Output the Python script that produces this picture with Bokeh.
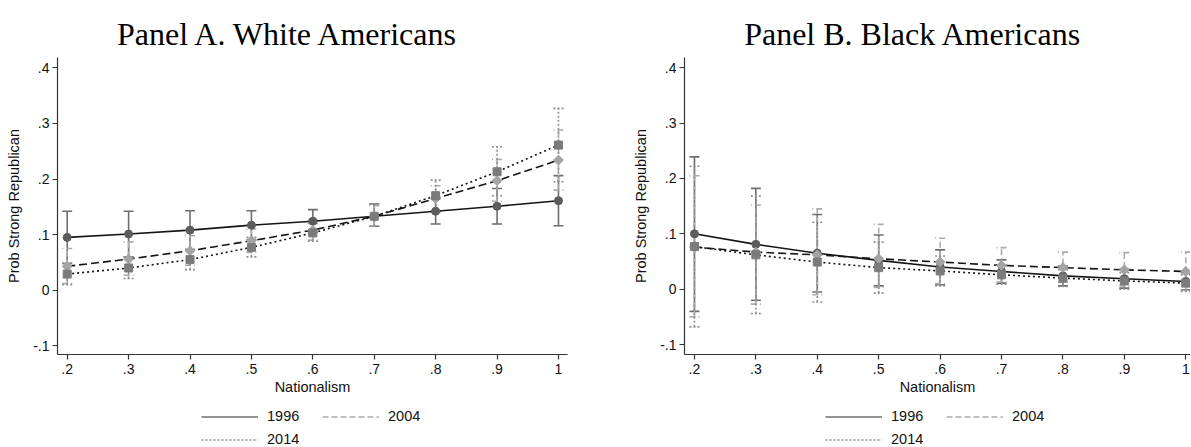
import numpy as np
from bokeh.plotting import figure
from bokeh.models import (ColumnDataSource, Whisker, TeeHead, FixedTicker, Legend,
                          LegendItem, Range1d, Label)
from bokeh.layouts import row, column
from bokeh.embed import file_html
from bokeh.resources import INLINE

# ---------------- data ----------------
nationalism = [0.2, 0.3, 0.4, 0.5, 0.6, 0.7, 0.8, 0.9, 1.0]
x_tick_labels = [".2", ".3", ".4", ".5", ".6", ".7", ".8", ".9", "1"]
y_ticks = [-0.1, 0.0, 0.1, 0.2, 0.3, 0.4]
y_tick_labels = ["-.1", "0", ".1", ".2", ".3", ".4"]
years = ["1996", "2004", "2014"]

# Panel A. White Americans
a_1996 = [0.095, 0.101, 0.108, 0.117, 0.124, 0.133, 0.142, 0.151, 0.161]
a_1996_lo = [0.048, 0.060, 0.073, 0.091, 0.104, 0.115, 0.119, 0.119, 0.116]
a_1996_hi = [0.142, 0.142, 0.143, 0.143, 0.145, 0.155, 0.165, 0.183, 0.206]
a_2004 = [0.043, 0.056, 0.071, 0.089, 0.108, 0.133, 0.165, 0.197, 0.234]
a_2004_lo = [0.012, 0.027, 0.045, 0.068, 0.090, 0.115, 0.140, 0.160, 0.180]
a_2004_hi = [0.075, 0.087, 0.098, 0.110, 0.126, 0.152, 0.188, 0.235, 0.288]
a_2014 = [0.029, 0.040, 0.055, 0.077, 0.103, 0.133, 0.170, 0.213, 0.261]
a_2014_lo = [0.010, 0.021, 0.037, 0.060, 0.088, 0.115, 0.143, 0.170, 0.195]
a_2014_hi = [0.049, 0.060, 0.073, 0.095, 0.120, 0.155, 0.198, 0.258, 0.327]

# Panel B. Black Americans
b_1996 = [0.100, 0.081, 0.065, 0.052, 0.040, 0.032, 0.024, 0.019, 0.014]
b_1996_lo = [-0.040, -0.020, -0.005, 0.006, 0.008, 0.011, 0.006, 0.002, -0.001]
b_1996_hi = [0.239, 0.182, 0.135, 0.098, 0.071, 0.053, 0.042, 0.036, 0.030]
b_2004 = [0.076, 0.067, 0.062, 0.055, 0.049, 0.043, 0.039, 0.035, 0.032]
b_2004_lo = [-0.050, -0.027, -0.010, 0.003, 0.010, 0.013, 0.012, 0.006, -0.002]
b_2004_hi = [0.205, 0.152, 0.145, 0.117, 0.092, 0.075, 0.067, 0.066, 0.067]
b_2014 = [0.077, 0.062, 0.049, 0.039, 0.033, 0.026, 0.020, 0.015, 0.011]
b_2014_lo = [-0.068, -0.044, -0.023, -0.007, 0.006, 0.009, 0.005, 0.000, -0.004]
b_2014_hi = [0.222, 0.168, 0.121, 0.085, 0.060, 0.044, 0.035, 0.030, 0.026]

panel_a = {"1996": (a_1996, a_1996_lo, a_1996_hi),
           "2004": (a_2004, a_2004_lo, a_2004_hi),
           "2014": (a_2014, a_2014_lo, a_2014_hi)}
panel_b = {"1996": (b_1996, b_1996_lo, b_1996_hi),
           "2004": (b_2004, b_2004_lo, b_2004_hi),
           "2014": (b_2014, b_2014_lo, b_2014_hi)}

# ---------------- styles ----------------
SANS = "Liberation Sans"
SERIF = "Liberation Serif"
styles = {
    "1996": dict(marker="circle", size=8, angle=0.0, color="#5c5c5c",
                 line_dash="solid", bar_color="#6e6e6e", bar_dash="solid"),
    "2004": dict(marker="square", size=7, angle=np.pi / 4, color="#a4a4a4",
                 line_dash="8 4", bar_color="#ababab", bar_dash="6 3"),
    "2014": dict(marker="square", size=8, angle=0.0, color="#7b7b7b",
                 line_dash="2 3", bar_color="#8f8f8f", bar_dash="2 2"),
}

TITLE_H = 57
PANEL_H = 343
LEGEND_H = 47


def blank_figure(width, height):
    f = figure(width=width, height=height, output_backend="svg", toolbar_location=None,
               x_range=Range1d(0, 1), y_range=Range1d(-0.2, 0.4),
               x_axis_type=None, y_axis_type=None,
               min_border=0, min_border_left=0, min_border_right=0,
               min_border_top=0, min_border_bottom=0)
    f.outline_line_color = None
    f.xgrid.grid_line_color = None
    f.ygrid.grid_line_color = None
    return f


def make_title(text, width, center_x):
    t = blank_figure(width, TITLE_H)
    t.add_layout(Label(x=center_x, y=TITLE_H - 33.5, x_units="screen", y_units="screen",
                       text=text, text_align="center", text_baseline="alphabetic",
                       text_font=SERIF, text_font_size="32px", text_color="#000000"))
    return t


def make_panel(data, width, border_left, border_right, frame_h,
               x_start, x_end, y_start, y_end):
    p = figure(width=width, height=PANEL_H, output_backend="svg", toolbar_location=None,
               x_range=Range1d(x_start, x_end), y_range=Range1d(y_start, y_end),
               min_border_left=border_left, min_border_right=border_right,
               min_border_top=0, min_border_bottom=PANEL_H - frame_h)
    p.outline_line_color = None
    p.xgrid.grid_line_color = None
    p.ygrid.grid_line_color = None
    p.background_fill_color = "white"
    p.border_fill_color = "white"

    # axes
    p.xaxis.ticker = FixedTicker(ticks=nationalism)
    p.xaxis.major_label_overrides = dict(zip(nationalism, x_tick_labels))
    p.yaxis.ticker = FixedTicker(ticks=y_ticks)
    p.yaxis.major_label_overrides = dict(zip(y_ticks, y_tick_labels))
    p.xaxis.axis_label = "Nationalism"
    p.yaxis.axis_label = "Prob Strong Republican"
    for ax in (p.xaxis, p.yaxis):
        ax.axis_line_color = "#333333"
        ax.axis_line_width = 1.2
        ax.major_tick_line_color = "#333333"
        ax.major_tick_line_width = 1.2
        ax.major_tick_out = 5
        ax.major_tick_in = 0
        ax.minor_tick_line_color = None
        ax.major_label_text_font = SANS
        ax.major_label_text_font_size = "14px"
        ax.major_label_text_color = "#111111"
        ax.axis_label_text_font = SANS
        ax.axis_label_text_font_size = "14.5px"
        ax.axis_label_text_font_style = "normal"
        ax.axis_label_text_color = "#111111"
    p.xaxis.major_label_standoff = 4
    p.xaxis.axis_label_standoff = 2
    p.yaxis.major_label_standoff = 3
    p.yaxis.axis_label_standoff = 8
    p.yaxis.major_label_orientation = "horizontal"

    for yr in years:
        mean, lo, hi = data[yr]
        st = styles[yr]
        src = ColumnDataSource(dict(x=nationalism, y=mean, lo=lo, hi=hi))
        w = Whisker(source=src, base="x", upper="hi", lower="lo",
                    line_color=st["bar_color"], line_width=1.6, line_dash=st["bar_dash"],
                    upper_head=TeeHead(size=10, line_color=st["bar_color"], line_width=1.6,
                                       line_dash=st["bar_dash"]),
                    lower_head=TeeHead(size=10, line_color=st["bar_color"], line_width=1.6,
                                       line_dash=st["bar_dash"]),
                    level="underlay")
        p.add_layout(w)

    for yr in years:
        mean, lo, hi = data[yr]
        st = styles[yr]
        src = ColumnDataSource(dict(x=nationalism, y=mean))
        p.line("x", "y", source=src, line_color="#141414", line_width=1.6,
               line_dash=st["line_dash"])
    for yr in years:
        mean, lo, hi = data[yr]
        st = styles[yr]
        src = ColumnDataSource(dict(x=nationalism, y=mean))
        p.scatter("x", "y", source=src, marker=st["marker"], size=st["size"],
                  angle=st["angle"], fill_color=st["color"], line_color=st["color"])
    return p


def make_legend(data, width, legend_x):
    lg = blank_figure(width, LEGEND_H)
    items = []
    for yr in years:
        mean, lo, hi = data[yr]
        st = styles[yr]
        src = ColumnDataSource(dict(x=nationalism, y=mean))
        proxy = lg.line("x", "y", source=src, line_color=st["bar_color"], line_width=1.6,
                        line_dash=st["bar_dash"], visible=False)
        items.append(LegendItem(label=yr, renderers=[proxy]))
    legend = Legend(items=items, location=(legend_x, 0), orientation="horizontal",
                    ncols=2, glyph_width=57, glyph_height=15, label_standoff=9,
                    label_width=48, label_height=15, spacing=7, padding=0, margin=0,
                    border_line_color=None, background_fill_alpha=0,
                    label_text_font=SANS, label_text_font_size="14.5px",
                    label_text_color="#111111", click_policy="none")
    lg.add_layout(legend)
    return lg


tA = make_title("Panel A. White Americans", 630, 288)
tB = make_title("Panel B. Black Americans", 560, 282.5)
pA = make_panel(panel_a, width=630, border_left=57, border_right=63, frame_h=297,
                x_start=0.1842, x_end=1.0147, y_start=-0.1156, y_end=0.4185)
pB = make_panel(panel_b, width=560, border_left=50, border_right=0, frame_h=300,
                x_start=0.1838, x_end=1.0077, y_start=-0.1179, y_end=0.4184)
lA = make_legend(panel_a, 630, 201)
lB = make_legend(panel_b, 560, 195)

layout = column(row(tA, tB), row(pA, pB), row(lA, lB))
open("out.html", "w").write(file_html(layout, INLINE))
